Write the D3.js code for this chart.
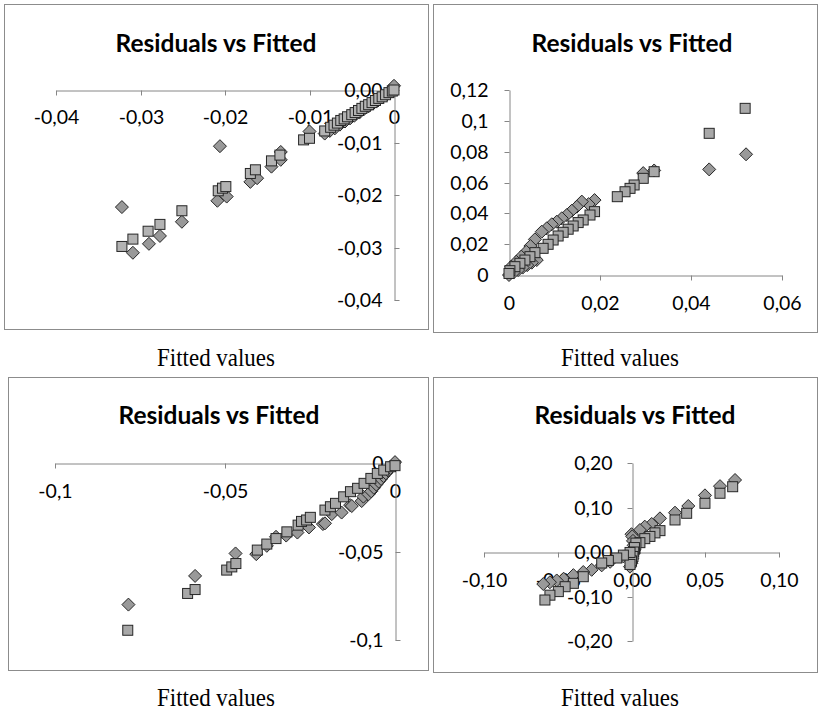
<!DOCTYPE html>
<html><head><meta charset="utf-8">
<script src="https://cdn.jsdelivr.net/npm/d3@7"></script>
<style>
html,body{margin:0;padding:0;background:#fff;}
</style></head>
<body>
<svg id="chart" width="820" height="713"></svg>
<script>
// ---------- DATA ----------
const chartTitle = "Residuals vs Fitted";
const xAxisLabel = "Fitted values";

// Panel 1 (top-left)
const p1XTicks = [-0.04, -0.03, -0.02, -0.01, 0];
const p1YTicks = [0, -0.01, -0.02, -0.03, -0.04];
const p1Diamonds = [[-0.0322,-0.0223],[-0.0309,-0.0310],[-0.0290,-0.0293],[-0.0277,-0.0278],[-0.0251,-0.0251],
  [-0.0206,-0.0107],[-0.0209,-0.0211],[-0.0198,-0.0203],[-0.0170,-0.0175],[-0.0162,-0.0168],[-0.0145,-0.0146],
  [-0.0134,-0.0118],[-0.0134,-0.0133],[-0.0100,-0.0079],[-0.0082,-0.0083],
  [-0.0076,-0.0078],[-0.0070,-0.0073],[-0.0064,-0.0066],[-0.0058,-0.0060],[-0.0052,-0.0054],[-0.0047,-0.0049],
  [-0.0041,-0.0043],[-0.0036,-0.0037],[-0.0030,-0.0031],[-0.0025,-0.0026],[-0.0019,-0.0020],[-0.0014,-0.0014],
  [-0.0008,-0.0008],[-0.0003,-0.0003],[0.0000,0.0008]];
const p1Squares = [[-0.0322,-0.0298],[-0.0309,-0.0284],[-0.0291,-0.0269],[-0.0277,-0.0256],[-0.0251,-0.0230],
  [-0.0208,-0.0192],[-0.0203,-0.0187],[-0.0199,-0.0184],[-0.0170,-0.0159],[-0.0164,-0.0152],[-0.0145,-0.0135],
  [-0.0135,-0.0124],[-0.0107,-0.0095],[-0.0100,-0.0092],[-0.0082,-0.0078],
  [-0.0075,-0.0071],[-0.0071,-0.0067],[-0.0067,-0.0063],[-0.0063,-0.0058],[-0.0059,-0.0055],[-0.0055,-0.0051],
  [-0.0050,-0.0047],[-0.0046,-0.0043],[-0.0042,-0.0039],[-0.0038,-0.0035],[-0.0034,-0.0031],[-0.0030,-0.0028],
  [-0.0026,-0.0024],[-0.0022,-0.0020],[-0.0018,-0.0016],[-0.0014,-0.0013],[-0.0010,-0.0009],[-0.0006,-0.0005],
  [-0.0002,-0.0002],[0.0000,0.0000]];

// Panel 2 (top-right)
const p2XTicks = [0, 0.02, 0.04, 0.06];
const p2YTicks = [0, 0.02, 0.04, 0.06, 0.08, 0.1, 0.12];
const p2Diamonds = [[0.0521,0.0783],[0.0440,0.0685],[0.0319,0.0678],[0.0295,0.0661],[0.0188,0.0486],[0.0175,0.0460],
  [0.0160,0.0476],[0.0149,0.0443],[0.0138,0.0417],[0.0127,0.0389],[0.0116,0.0368],[0.0105,0.0346],[0.0094,0.0329],
  [0.0083,0.0303],[0.0072,0.0281],[0.0057,0.0231],[0.0047,0.0188],[0.0038,0.0151],[0.0027,0.0119],[0.0016,0.0086],
  [0.0005,0.0054],[0.0000,0.0000],[0.0061,0.0097],[0.0050,0.0080],[0.0040,0.0064],[0.0030,0.0048],[0.0020,0.0032],
  [0.0010,0.0016]];
const p2Squares = [[0.0519,0.1081],[0.0440,0.0919],[0.0319,0.0670],[0.0295,0.0627],[0.0275,0.0584],[0.0266,0.0562],
  [0.0255,0.0540],[0.0238,0.0508],[0.0188,0.0411],[0.0178,0.0389],[0.0163,0.0357],[0.0152,0.0340],[0.0141,0.0318],
  [0.0130,0.0297],[0.0119,0.0277],[0.0108,0.0253],[0.0097,0.0227],[0.0086,0.0199],[0.0075,0.0173],[0.0057,0.0145],
  [0.0046,0.0119],[0.0035,0.0097],[0.0024,0.0076],[0.0013,0.0054],[0.0002,0.0028],[0.0000,0.0010]];

// Panel 3 (bottom-left)
const p3XTicks = [-0.1, -0.05, 0];
const p3YTicks = [0, -0.05, -0.1];
const p3Diamonds = [[-0.0784,-0.0800],[-0.0588,-0.0638],[-0.0469,-0.0511],[-0.0408,-0.0515],[-0.0377,-0.0468],
  [-0.0350,-0.0417],[-0.0320,-0.0410],[-0.0287,-0.0393],[-0.0253,-0.0364],[-0.0212,-0.0345],[-0.0206,-0.0341],
  [-0.0186,-0.0289],[-0.0157,-0.0280],[-0.0132,-0.0238],[-0.0127,-0.0243],[-0.0098,-0.0215],[-0.0093,-0.0190],
  [-0.0078,-0.0177],[-0.0070,-0.0160],[-0.0062,-0.0140],[-0.0055,-0.0122],[-0.0048,-0.0105],[-0.0041,-0.0090],
  [-0.0034,-0.0074],[-0.0027,-0.0058],[-0.0020,-0.0043],[-0.0013,-0.0028],[-0.0006,-0.0013],[0.0000,0.0005]];
const p3Squares = [[-0.0786,-0.0945],[-0.0610,-0.0737],[-0.0588,-0.0715],[-0.0495,-0.0605],[-0.0480,-0.0587],
  [-0.0468,-0.0568],[-0.0405,-0.0492],[-0.0377,-0.0458],[-0.0350,-0.0427],[-0.0318,-0.0389],[-0.0285,-0.0351],
  [-0.0275,-0.0330],[-0.0260,-0.0322],[-0.0249,-0.0307],[-0.0206,-0.0266],[-0.0190,-0.0247],[-0.0175,-0.0228],
  [-0.0151,-0.0191],[-0.0131,-0.0162],[-0.0110,-0.0143],[-0.0091,-0.0115],[-0.0071,-0.0087],[-0.0052,-0.0059],
  [-0.0033,-0.0040],[-0.0013,-0.0021],[0.0000,-0.0015]];

// Panel 4 (bottom-right)
const p4XTicks = [-0.1, -0.05, 0, 0.05, 0.1];
const p4YTicks = [-0.2, -0.1, 0, 0.1, 0.2];
const p4Diamonds = [[0.0702,0.1618],[0.0600,0.1480],[0.0498,0.1273],[0.0385,0.1034],[0.0295,0.0884],[0.0193,0.0756],
  [0.0137,0.0630],[0.0090,0.0570],[0.0057,0.0494],[0.0000,0.0400],[0.0005,0.0350],[0.0010,0.0250],[0.0015,0.0150],
  [0.0020,0.0050],[0.0010,-0.0050],[0.0005,-0.0150],[0.0000,-0.0250],[-0.0010,-0.0330],[-0.0055,-0.0100],
  [-0.0145,-0.0220],[-0.0202,-0.0300],[-0.0270,-0.0400],[-0.0327,-0.0450],[-0.0394,-0.0520],[-0.0460,-0.0600],
  [-0.0507,-0.0640],[-0.0553,-0.0680],[-0.0598,-0.0720]];
const p4Squares = [[0.0686,0.1467],[0.0600,0.1320],[0.0498,0.1094],[0.0374,0.0870],[0.0295,0.0720],[0.0193,0.0480],
  [0.0159,0.0430],[0.0125,0.0350],[0.0090,0.0300],[0.0057,0.0210],[0.0024,0.0080],[0.0030,0.0200],[0.0020,0.0100],
  [0.0015,0.0000],[0.0010,-0.0100],[0.0000,-0.0200],[-0.0010,-0.0280],[-0.0010,-0.0010],[-0.0055,-0.0070],
  [-0.0100,-0.0135],[-0.0157,-0.0190],[-0.0202,-0.0247],[-0.0327,-0.0555],[-0.0394,-0.0704],[-0.0450,-0.0780],
  [-0.0496,-0.0890],[-0.0553,-0.0970],[-0.0587,-0.1079]];

// ---------- RENDER ----------
const loc = d3.formatLocale({decimal: ",", thousands: ".", grouping: [3], currency: ["", ""], minus: "-"});
const fTrim = loc.format(".2~f");
const fFix = loc.format(".2f");

const panels = [
  {box:[4,4,424,325], titleX:216, titleY:43, xr:[56,394], yr:[300,90], xd:[-0.04,0], yd:[-0.04,0],
   xt:p1XTicks, yt:p1YTicks, xf:fTrim, yf:fFix, yTickRight:true, yPad:12, xLab:27, sqFill:"#b3b3b3",
   dia:p1Diamonds, sq:p1Squares, labX:216, labY:357},
  {box:[433,4,384,328], titleX:632, titleY:43, xr:[509,782], yr:[275,90], xd:[0,0.06], yd:[0,0.12],
   xt:p2XTicks, yt:p2YTicks, xf:fTrim, yf:fTrim, yTickRight:false, yPad:16, xLab:28, sqFill:"#a8a8a8",
   dia:p2Diamonds, sq:p2Squares, labX:620, labY:357},
  {box:[8,377,420,293], titleX:219, titleY:415, xr:[55,395], yr:[640,463], xd:[-0.1,0], yd:[-0.1,0],
   xt:p3XTicks, yt:p3YTicks, xf:fTrim, yf:fTrim, yTickRight:true, yPad:12, xLab:28, sqFill:"#a8a8a8",
   dia:p3Diamonds, sq:p3Squares, labX:216, labY:697},
  {box:[433,377,384,295], titleX:635, titleY:415, xr:[484,779], yr:[641,463], xd:[-0.1,0.1], yd:[-0.2,0.2],
   xt:p4XTicks, yt:p4YTicks, xf:fFix, yf:fFix, yTickRight:false, yPad:15, xLab:28, sqFill:"#a8a8a8",
   dia:p4Diamonds, sq:p4Squares, labX:620, labY:697}
];

const svg = d3.select("#chart");
const axisColor = "#868686";
const sansFont = "Lato, 'Open Sans', sans-serif";
const serifFont = "'Liberation Serif', 'Times New Roman', serif";

panels.forEach(p => {
  const g = svg.append("g");
  g.append("rect").attr("x", p.box[0]+0.5).attr("y", p.box[1]+0.5)
    .attr("width", p.box[2]).attr("height", p.box[3])
    .attr("fill", "#fff").attr("stroke", "#8c8c8c").attr("stroke-width", 1);

  g.append("text").attr("x", p.titleX).attr("y", p.titleY).attr("dy", "0.35em")
    .attr("text-anchor", "middle").style("font-family", sansFont).style("font-weight", "bold")
    .style("font-size", "24.5px").attr("fill", "#000").text(chartTitle);

  const x = d3.scaleLinear().domain(p.xd).range(p.xr);
  const y = d3.scaleLinear().domain(p.yd).range(p.yr);
  const x0 = Math.round(x(0)) + 0.5, y0 = Math.round(y(0)) + 0.5;

  // x axis
  const gx = g.append("g").attr("transform", `translate(0,${y0})`)
    .call(d3.axisBottom(x).tickValues(p.xt).tickSizeInner(5).tickSizeOuter(0).tickFormat(p.xf));
  gx.select(".domain").attr("stroke", axisColor);
  gx.selectAll(".tick line").attr("stroke", axisColor);
  gx.selectAll(".tick").attr("transform", d => `translate(${Math.round(x(d))+0.5},0)`);
  gx.selectAll("text").attr("y", p.xLab).attr("dy", "0.35em")
    .style("font-size", "19.5px").style("font-family", sansFont).attr("fill", "#000");

  // y axis
  const gy = g.append("g").attr("transform", `translate(${x0},0)`)
    .call(d3.axisLeft(y).tickValues(p.yt).tickSizeInner(p.yTickRight ? -5 : 5).tickSizeOuter(0)
      .tickPadding(p.yPad).tickFormat(p.yf));
  gy.select(".domain").attr("stroke", axisColor);
  gy.selectAll(".tick line").attr("stroke", axisColor);
  gy.selectAll(".tick").attr("transform", d => `translate(0,${Math.round(y(d))+0.5})`);
  gy.selectAll("text").style("font-size", "19.5px").style("font-family", sansFont).attr("fill", "#000");

  // diamonds
  const dsz = 6.5;
  g.append("g").selectAll("path").data(p.dia).join("path")
    .attr("d", d => { const cx = x(d[0]), cy = y(d[1]);
      return `M${cx},${cy-dsz}L${cx+dsz},${cy}L${cx},${cy+dsz}L${cx-dsz},${cy}Z`; })
    .attr("fill", "#999999").attr("stroke", "#262626").attr("stroke-width", 1);

  // squares
  const s = 5;
  g.append("g").selectAll("rect").data(p.sq).join("rect")
    .attr("x", d => x(d[0]) - s).attr("y", d => y(d[1]) - s)
    .attr("width", 2*s).attr("height", 2*s)
    .attr("fill", p.sqFill).attr("stroke", "#262626").attr("stroke-width", 1);

  // axis label below the panel (condensed serif)
  svg.append("text").attr("transform", `translate(${p.labX},${p.labY}) scale(0.9,1)`)
    .attr("dy", "0.35em")
    .attr("text-anchor", "middle").style("font-family", serifFont)
    .style("font-size", "25.5px").attr("fill", "#000").text(xAxisLabel);
});
</script>
</body></html>
